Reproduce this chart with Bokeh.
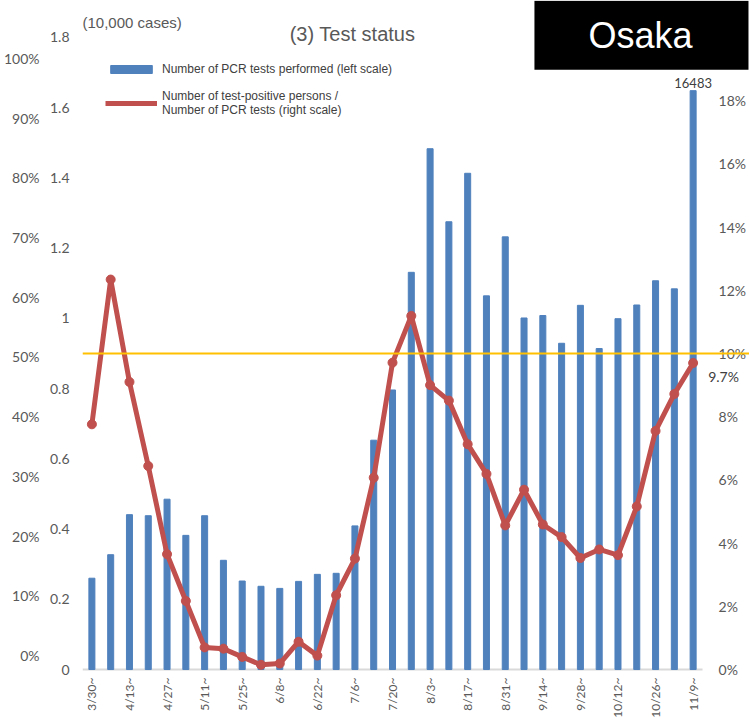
from bokeh.plotting import figure
from bokeh.models import (Range1d, LinearAxis, FixedTicker, Span, Label,
                          Legend, LegendItem, ColumnDataSource)
from bokeh.embed import file_html
from bokeh.resources import INLINE
import math

# ---------------- data ----------------
weeks = ["3/30~", "4/6~", "4/13~", "4/20~", "4/27~", "5/4~", "5/11~", "5/18~",
         "5/25~", "6/1~", "6/8~", "6/15~", "6/22~", "6/29~", "7/6~", "7/13~",
         "7/20~", "7/27~", "8/3~", "8/10~", "8/17~", "8/24~", "8/31~", "9/7~",
         "9/14~", "9/21~", "9/28~", "10/5~", "10/12~", "10/19~", "10/26~",
         "11/2~", "11/9~"]

# PCR tests performed (units of 10,000 cases)
tests_10k = [0.260, 0.327, 0.441, 0.438, 0.485, 0.382, 0.438, 0.311, 0.252,
             0.237, 0.231, 0.251, 0.271, 0.274, 0.409, 0.653, 0.796, 1.131,
             1.483, 1.275, 1.413, 1.064, 1.232, 1.001, 1.008, 0.929, 1.037,
             0.914, 0.999, 1.038, 1.107, 1.084, 1.6483]

# positive persons / PCR tests (%)
positive_rate_pct = [7.76, 12.34, 9.10, 6.44, 3.65, 2.17, 0.70, 0.66, 0.40,
                     0.15, 0.19, 0.88, 0.44, 2.35, 3.51, 6.07, 9.71, 11.19,
                     9.00, 8.51, 7.13, 6.19, 4.56, 5.69, 4.59, 4.19, 3.53,
                     3.80, 3.62, 5.16, 7.55, 8.72, 9.70]

left_ticks = [0, 0.2, 0.4, 0.6, 0.8, 1.0, 1.2, 1.4, 1.6, 1.8]
left_tick_labels = ["0", "0.2", "0.4", "0.6", "0.8", "1", "1.2", "1.4", "1.6", "1.8"]
right_ticks = [0, 2, 4, 6, 8, 10, 12, 14, 16, 18]
right_tick_labels = ["0%", "2%", "4%", "6%", "8%", "10%", "12%", "14%", "16%", "18%"]
side_ticks = [0, 10, 20, 30, 40, 50, 60, 70, 80, 90, 100]
side_tick_labels = ["0%", "10%", "20%", "30%", "40%", "50%", "60%", "70%",
                    "80%", "90%", "100%"]
threshold_pct = 10

title_text = "(3) Test status"
unit_text = "(10,000 cases)"
region_text = "Osaka"
legend_bar = "Number of PCR tests performed (left scale)"
legend_line = "Number of test-positive persons /\nNumber of PCR tests (right scale)"

# ---------------- styles ----------------
BAR = "#4F81BD"
RED = "#C0504D"
TICK = "#595959"
TICK_FONT = "Lato"
TEXT_FONT = "Liberation Sans"

n = len(weeks)
week_idx = list(range(n))
src = ColumnDataSource(dict(x=week_idx, tests=tests_10k, rate=positive_rate_pct))

p = figure(width=749, height=720,
           x_range=Range1d(-0.5, n + 2.0),
           y_range=Range1d(-0.017, 1.905),
           output_backend="svg", toolbar_location=None,
           min_border_left=82, min_border_right=0,
           min_border_top=0, min_border_bottom=0)
p.extra_y_ranges = {"right": Range1d(-0.189, 21.17), "side": Range1d(-3.34, 109.68)}
p.grid.visible = False
p.outline_line_color = None
p.background_fill_color = "white"
p.border_fill_color = "white"


def style_axis(ax, standoff, size="14px"):
    ax.axis_line_color = None
    ax.major_tick_line_color = None
    ax.minor_tick_line_color = None
    ax.major_tick_out = 0
    ax.major_tick_in = 0
    ax.minor_tick_out = 0
    ax.minor_tick_in = 0
    ax.major_label_standoff = standoff
    ax.major_label_text_font = TICK_FONT
    ax.major_label_text_font_size = size
    ax.major_label_text_color = TICK


# left axis
ya = p.yaxis[0]
ya.ticker = FixedTicker(ticks=left_ticks)
ya.major_label_overrides = {float(t): l for t, l in zip(left_ticks, left_tick_labels)}
style_axis(ya, 13)

# neighbouring chart's percent axis (left strip)
sa = LinearAxis(y_range_name="side", ticker=FixedTicker(ticks=side_ticks))
sa.major_label_overrides = {float(t): l for t, l in zip(side_ticks, side_tick_labels)}
style_axis(sa, 7)
p.add_layout(sa, "left")

# right axis, pinned at the right edge of the weekly bars
ra = LinearAxis(y_range_name="right", ticker=FixedTicker(ticks=right_ticks),
                fixed_location=n - 0.5)
ra.major_label_overrides = {float(t): l for t, l in zip(right_ticks, right_tick_labels)}
style_axis(ra, 16)
p.add_layout(ra, "right")

# x axis (labels only; baseline drawn at zero below)
xa = p.xaxis[0]
xa.ticker = FixedTicker(ticks=week_idx[::2])
xa.major_label_overrides = {i: weeks[i] for i in week_idx[::2]}
xa.major_label_orientation = math.pi / 2
style_axis(xa, 2, "12px")

# category axis baseline at zero, spanning the weekly slots
p.segment(x0=[week_idx[0] - 0.5], y0=[0], x1=[week_idx[-1] + 0.5], y1=[0],
          line_color="#D9D9D9", line_width=2)

# bars & line
r_bar = p.vbar(x="x", top="tests", width=0.32, source=src,
               fill_color=BAR, line_color=BAR)
p.add_layout(Span(location=threshold_pct, dimension="width", y_range_name="right",
                  line_color="#FFC000", line_width=2))
r_line = p.line(x="x", y="rate", source=src, y_range_name="right",
                line_color=RED, line_width=5)
r_pts = p.scatter(x="x", y="rate", source=src, y_range_name="right", size=9,
                  fill_color=RED, line_color=RED)

legend = Legend(items=[LegendItem(label=legend_bar, renderers=[r_bar]),
                       LegendItem(label=legend_line, renderers=[r_line, r_pts])],
                location=(23, 558), margin=0, padding=0, spacing=13,
                border_line_color=None, background_fill_alpha=0,
                glyph_width=52, glyph_height=10, label_standoff=5,
                label_text_font=TEXT_FONT, label_text_font_size="12px",
                label_text_color="#404040", label_height=12)
p.add_layout(legend)

# data labels on the last week
p.add_layout(Label(x=week_idx[-1], y=tests_10k[-1], text=f"{round(tests_10k[-1] * 10000)}",
                   text_align="center", text_baseline="bottom", y_offset=3,
                   text_font=TICK_FONT, text_font_size="13px", text_color="#404040"))
p.add_layout(Label(x=week_idx[-1], y=positive_rate_pct[-1], y_range_name="right",
                   text=f"{positive_rate_pct[-1]:.1f}%", text_align="left",
                   text_baseline="middle", x_offset=15, y_offset=-14,
                   text_font=TICK_FONT, text_font_size="14px", text_color="#404040"))

# titles
p.add_layout(Label(x=13.87, y=1.811, text=title_text, text_align="center",
                   text_baseline="middle", text_font=TEXT_FONT,
                   text_font_size="20px", text_color=TICK))
p.add_layout(Label(x=-0.5, y=1.842, text=unit_text, text_align="left",
                   text_baseline="middle", text_font=TEXT_FONT,
                   text_font_size="15px", text_color=TICK))
p.add_layout(Label(x=29.25, y=1.806, text=region_text, text_align="center",
                   text_baseline="middle", text_font=TEXT_FONT,
                   text_font_size="36px", text_color="white",
                   background_fill_color="black",
                   padding=dict(left=54, right=56, top=14, bottom=14)))

open("out.html", "w").write(file_html(p, INLINE))
